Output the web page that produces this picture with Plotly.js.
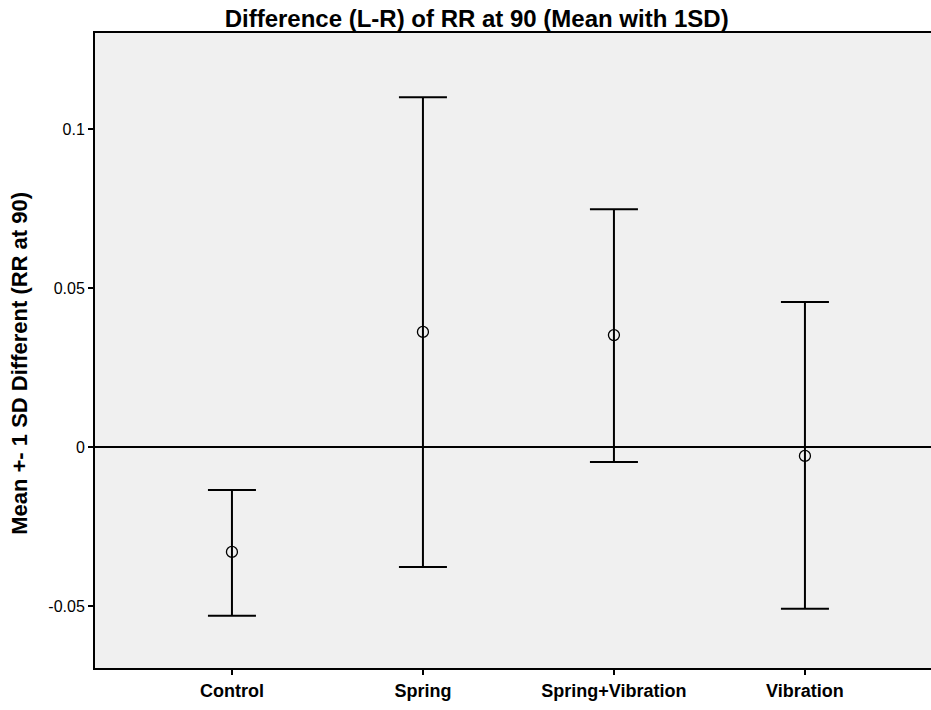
<!DOCTYPE html>
<html><head><meta charset="utf-8">
<script src="https://cdn.plot.ly/plotly-3.0.1.min.js"></script>
<style>html,body{margin:0;padding:0;background:#fff}#chart{width:931px;height:710px}</style>
</head><body><div id="chart"></div>
<script>
var categories = ["Control", "Spring", "Spring+Vibration", "Vibration"];
var means = [-0.0330, 0.0362, 0.0352, -0.0028];
var upper = [-0.0135, 0.1100, 0.0748, 0.0456];
var lower = [-0.0531, -0.0377, -0.0047, -0.0509];
var yTickVals = [-0.05, 0, 0.05, 0.1];
var yTickText = ["-0.05", "0", "0.05", "0.1"];

var idx = categories.map(function(c, i){ return i; });
var errPlus = means.map(function(m, i){ return upper[i] - m; });
var errMinus = means.map(function(m, i){ return m - lower[i]; });

var trace = {
  type: "scatter", mode: "markers",
  x: idx, y: means,
  marker: {symbol: "circle-open", size: 11, color: "#000", line: {width: 1.3, color: "#000"}},
  error_y: {type: "data", symmetric: false, array: errPlus, arrayminus: errMinus,
            color: "#000", thickness: 2, width: 24},
  hoverinfo: "skip", showlegend: false
};

var layout = {
  width: 931, height: 710,
  margin: {l: 95, r: 0, t: 33, b: 42},
  paper_bgcolor: "#fff", plot_bgcolor: "#f0f0f0",
  font: {family: "Liberation Sans, Arial, sans-serif", color: "#000"},
  title: {text: "Difference (L-R) of RR at 90 (Mean with 1SD)",
          font: {size: 24, weight: "bold", color: "#000"},
          x: 0.512, xanchor: "center", y: 0.985, yanchor: "top"},
  xaxis: {range: [-0.717, 3.66], tickmode: "array", tickvals: idx, ticktext: categories,
          tickfont: {size: 18, weight: "bold"}, ticks: "outside", ticklen: 5, tickwidth: 1.5,
          tickcolor: "#000", showline: true, linecolor: "#000", linewidth: 2, mirror: true,
          showgrid: false, zeroline: false, fixedrange: true},
  yaxis: {range: [-0.0695, 0.1302], tickmode: "array", tickvals: yTickVals, ticktext: yTickText,
          tickfont: {size: 16}, ticks: "outside", ticklen: 5, tickwidth: 1.5, tickcolor: "#000",
          showline: true, linecolor: "#000", linewidth: 2, mirror: true,
          showgrid: false, zeroline: true, zerolinecolor: "#000", zerolinewidth: 2,
          fixedrange: true},
  annotations: [{text: "Mean +- 1 SD Different (RR at 90)", textangle: -90,
          xref: "paper", yref: "paper", x: 0, y: 0.479, xanchor: "center", yanchor: "middle",
          xshift: -75, showarrow: false, font: {size: 22, weight: "bold", color: "#000"}}]
};

Plotly.newPlot("chart", [trace], layout, {displayModeBar: false, staticPlot: true});
</script></body></html>
